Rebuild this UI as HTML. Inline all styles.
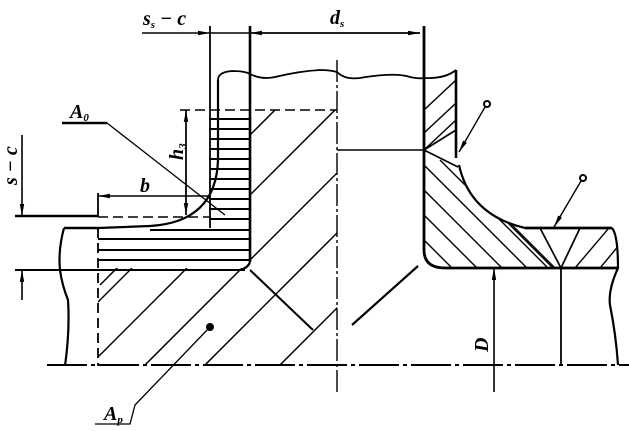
<!DOCTYPE html>
<html><head><meta charset="utf-8"><style>
html,body{margin:0;padding:0;background:#fff;overflow:hidden;width:629px;height:431px}
svg{display:block}
text{font-family:"Liberation Serif",serif;font-style:italic;font-weight:bold;fill:#000}
</style></head><body>
<svg width="629" height="431" viewBox="0 0 629 431" xmlns="http://www.w3.org/2000/svg" style="position:absolute;left:0;top:0">
<defs>
<marker id="ar" markerWidth="12" markerHeight="6" refX="12" refY="3" orient="auto" markerUnits="userSpaceOnUse">
<path d="M0,0.8 L12,3 L0,5.2 Z" fill="#000"/></marker>
<clipPath id="lc"><path d="M98,268 L245,268 L250,262 L250,110 L337,110 L337,366 L98,366 Z"/></clipPath>
<clipPath id="rc"><path d="M424,150 L458,167 Q470,215 525,228 L617,228 L618,268 L445,268 Q424,268 424,250 Z"/></clipPath>
<clipPath id="rw"><path d="M424,72 L456,70 L456,130 L424,150 Z"/></clipPath>
</defs>
<g stroke="#000" fill="none">
<line x1="142" y1="33" x2="210" y2="33" stroke-width="1.6" marker-end="url(#ar)"/>
<line x1="210" y1="33" x2="250" y2="33" stroke-width="1.6"/>
<line x1="420" y1="33" x2="250" y2="33" stroke-width="1.6" marker-end="url(#ar)"/>
<line x1="250" y1="33" x2="420" y2="33" stroke-width="1.6" marker-end="url(#ar)"/>
<line x1="210" y1="26" x2="210" y2="228" stroke-width="1.8"/>
<line x1="250" y1="26" x2="250" y2="262" stroke-width="2.6"/>
<line x1="424" y1="26" x2="424" y2="250" stroke-width="2.8"/>
<path d="M218,80 Q218,72 232,71 Q245,71 250,74 Q262,80 275,77 Q300,71 320,70 Q330,70 337,72 Q345,80 360,78 Q395,72 410,77 Q420,79 424,78 Q445,79 456,70" stroke-width="1.8"/>
<path d="M218,80 L218,160 Q216,222 150,226 L98,228" stroke-width="2.2"/>
<line x1="64" y1="228" x2="98" y2="228" stroke-width="2.6"/>
<path d="M64,228 Q58,250 60,270 Q62,285 68,300 Q70,330 65,366" stroke-width="2.2"/>
<path d="M250,262 Q248,268 240,270" stroke-width="2.2"/>
<g stroke-width="2">
<line x1="210" y1="119" x2="250" y2="119"/><line x1="210" y1="129" x2="250" y2="129"/>
<line x1="210" y1="139" x2="250" y2="139"/><line x1="210" y1="149" x2="250" y2="149"/>
<line x1="210" y1="159" x2="250" y2="159"/><line x1="210" y1="169" x2="250" y2="169"/>
<line x1="210" y1="179" x2="250" y2="179"/><line x1="210" y1="189" x2="250" y2="189"/>
<line x1="210" y1="199" x2="250" y2="199"/><line x1="210" y1="209" x2="250" y2="209"/>
<line x1="210" y1="219" x2="250" y2="219"/>
<line x1="150" y1="230" x2="250" y2="230"/>
<line x1="98" y1="239" x2="250" y2="239"/><line x1="98" y1="250" x2="250" y2="250"/>
<line x1="98" y1="260" x2="250" y2="260"/>
</g>
<line x1="180" y1="110" x2="337" y2="110" stroke-width="1.6" stroke-dasharray="10,5"/>
<line x1="98" y1="217" x2="210" y2="217" stroke-width="1.5" stroke-dasharray="10,5"/>
<line x1="98" y1="228" x2="98" y2="366" stroke-width="1.8" stroke-dasharray="10,5"/>
<line x1="98" y1="193" x2="98" y2="217" stroke-width="1.8"/>
<line x1="337" y1="60" x2="337" y2="392" stroke-width="1.4" stroke-dasharray="22,3,3,3"/>
<line x1="47" y1="365" x2="629" y2="365" stroke-width="2" stroke-dasharray="40,4,4,4"/>
<g clip-path="url(#lc)" stroke-width="1.5">
<line x1="100" y1="285" x2="300" y2="85"/>
<line x1="98" y1="302" x2="132" y2="268"/>
<line x1="98" y1="357" x2="187" y2="268"/>
<line x1="250" y1="195" x2="337" y2="108"/>
<line x1="0" y1="510" x2="510" y2="0"/>
<line x1="0" y1="570" x2="570" y2="0"/>
<line x1="0" y1="645" x2="645" y2="0"/>
</g>
<line x1="250" y1="270" x2="313" y2="330" stroke-width="2"/>
<line x1="352" y1="325" x2="418" y2="266" stroke-width="2.2"/>
<line x1="337" y1="150" x2="424" y2="150" stroke-width="1.6"/>
<line x1="15" y1="216" x2="98" y2="216" stroke-width="2.6"/>
<line x1="15" y1="270" x2="245" y2="270" stroke-width="2"/>
<line x1="22" y1="135" x2="22" y2="216" stroke-width="1.6" marker-end="url(#ar)"/>
<line x1="22" y1="300" x2="22" y2="270" stroke-width="1.6" marker-end="url(#ar)"/>
<line x1="210" y1="196" x2="98" y2="196" stroke-width="1.6" marker-end="url(#ar)"/>
<line x1="186" y1="215" x2="186" y2="110" stroke-width="1.5" marker-end="url(#ar)"/>
<line x1="186" y1="110" x2="186" y2="215" stroke-width="1.5" marker-end="url(#ar)"/>
<line x1="62" y1="123" x2="107" y2="123" stroke-width="2.4"/>
<line x1="107" y1="123" x2="225" y2="215" stroke-width="1.3"/>
<path d="M456,70 L456,158" stroke-width="2.6"/>
<path d="M424,250 Q424,268 445,268 L618,268" stroke-width="2.8"/>
<path d="M459,165 Q470,215 525,228" stroke-width="2.2"/>
<line x1="525" y1="228" x2="612" y2="228" stroke-width="2.8"/>
<path d="M612,228 Q618,235 618,268 Q608,290 610,305 Q616,335 618,365" stroke-width="2.2"/>
<line x1="424" y1="150" x2="456" y2="130" stroke-width="1.7"/>
<line x1="424" y1="150" x2="458" y2="167" stroke-width="1.7"/>
<line x1="540" y1="228" x2="561" y2="268" stroke-width="1.7"/>
<line x1="580" y1="228" x2="561" y2="268" stroke-width="1.7"/>
<g clip-path="url(#rw)" stroke-width="1.4">
<line x1="424" y1="110" x2="456" y2="80"/>
<line x1="424" y1="133" x2="456" y2="103"/>
<line x1="424" y1="150" x2="456" y2="120"/>
</g>
<g clip-path="url(#rc)" stroke-width="1.4">
<line x1="424" y1="165" x2="650" y2="391"/>
<line x1="424" y1="190" x2="650" y2="416"/>
<line x1="424" y1="215" x2="650" y2="441"/>
<line x1="424" y1="240" x2="650" y2="466"/>
<line x1="440" y1="160" x2="660" y2="380"/>
<line x1="475" y1="190" x2="660" y2="375"/>
<line x1="505" y1="218" x2="560" y2="273"/>
<line x1="600" y1="268" x2="640" y2="220"/>
<line x1="575" y1="268" x2="620" y2="215"/>
</g>
<line x1="561" y1="268" x2="561" y2="365" stroke-width="1.8"/>
<line x1="494" y1="392" x2="494" y2="268" stroke-width="1.6" marker-end="url(#ar)"/>
<circle cx="487" cy="104" r="3" stroke-width="2"/>
<line x1="485" y1="107" x2="459" y2="152" stroke-width="1.4" marker-end="url(#ar)"/>
<circle cx="583" cy="178" r="3" stroke-width="2"/>
<line x1="581" y1="181" x2="554" y2="227" stroke-width="1.4" marker-end="url(#ar)"/>
<circle cx="210" cy="327" r="4" fill="#000" stroke="none"/>
<path d="M210,327 L135,405 L130,424 L95,424" stroke-width="1.3"/>
</g>
<text x="143" y="25" font-size="20">s<tspan font-size="11" dy="3">s</tspan><tspan dy="-3"> − c</tspan></text>
<text x="330" y="24" font-size="20">d<tspan font-size="11" dy="3">s</tspan></text>
<text x="70" y="118" font-size="20">A<tspan font-size="11" dy="3">0</tspan></text>
<text x="140" y="192" font-size="20">b</text>
<text x="104" y="420" font-size="20">A<tspan font-size="11" dy="3">p</tspan></text>
<text transform="translate(183,160) rotate(-90)" font-size="20">h<tspan font-size="11" dy="3">3</tspan></text>
<text transform="translate(17,185) rotate(-90)" font-size="20">s − c</text>
<text transform="translate(488,352) rotate(-90)" font-size="20">D</text>
</svg>
</body></html>
